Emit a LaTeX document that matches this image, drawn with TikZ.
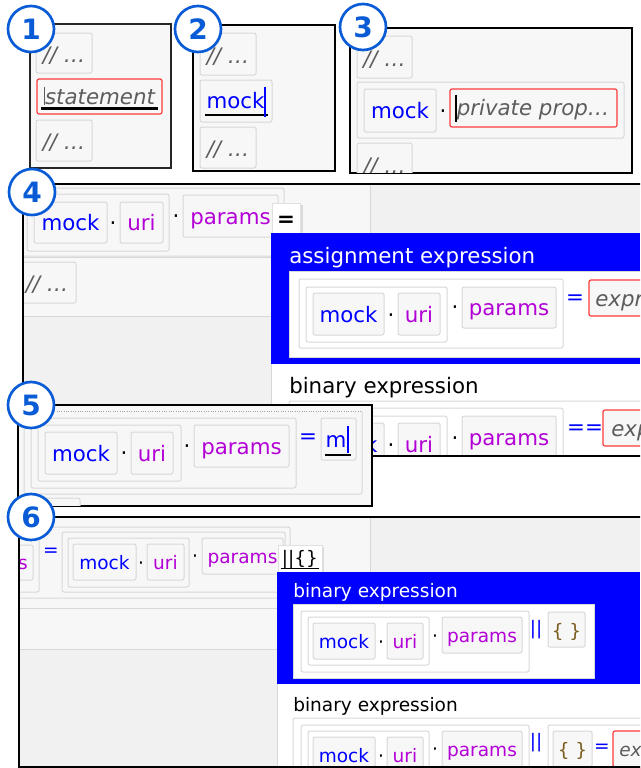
\documentclass[tikz,border=0pt]{standalone}
\usepackage{fontspec}
\setmainfont{DejaVu Sans}
\usepackage{tikz}
\definecolor{tokblue}{HTML}{0000FF}
\definecolor{tokmag}{HTML}{B300D6}
\definecolor{badgeblue}{HTML}{0A5CD6}
\definecolor{cellline}{HTML}{D8D8D8}
\definecolor{cellfill}{HTML}{F7F7F7}
\definecolor{panedark}{HTML}{F1F1F1}
\definecolor{errred}{HTML}{FF3B3B}
\definecolor{hintgray}{HTML}{5C5C5C}
\definecolor{bracebrown}{HTML}{7A5A1E}
\definecolor{selblue}{HTML}{0000FF}

\begin{document}
\begin{tikzpicture}[x=0.75pt,y=-0.75pt,
  frame/.style={draw=black,line width=1.5pt},
  cell/.style={draw=cellline,fill=cellfill,line width=0.75pt,rounded corners=1.5pt},
  grp/.style={draw=cellline,line width=0.75pt,rounded corners=1.5pt},
  err/.style={draw=errred,fill=cellfill,line width=0.9pt,rounded corners=1.5pt},
  tok/.style={inner sep=0pt,font=\fontsize{16}{18}\selectfont,text height=14.4pt,text depth=2.2pt},
  stok/.style={inner sep=0pt,font=\fontsize{13.9}{16}\selectfont,text height=12.5pt,text depth=1.9pt},
  hint/.style={tok,text=hintgray,font=\fontsize{16}{18}\selectfont\itshape},
  shint/.style={stok,text=hintgray,font=\fontsize{13.9}{16}\selectfont\itshape},
  popup/.style={fill=white,draw=black!12,line width=0.5pt},
  badge/.style={circle,draw=badgeblue,fill=white,line width=2pt,minimum size=34.5pt,inner sep=0pt,
    text=badgeblue,font=\fontsize{21}{22}\selectfont\bfseries}]
  \useasboundingbox (0,0) rectangle (640,768);
  \clip (0,0) rectangle (640,768);

  % panel 1: empty statement
  \filldraw[fill=cellfill,draw=black!85,line width=1pt] (30,24) rectangle (171,168);
  \draw[cell] (36,33) rectangle (92,73);   \node[hint] (c1a) at (64,54) {// …};
  \draw[err] (37,79) rectangle (162,114);  \node[hint] (st1) at (100,96.5) {statement};
  \draw[line width=2.2pt] (41,108.5) -- (158,108.5);
  \draw[hintgray,line width=0.6pt] (44,87) -- (44,105);
  \draw[cell] (36,120) rectangle (92,161); \node[hint] (c1b) at (64,141.5) {// …};

  % panel 2: typing an identifier
  \filldraw[fill=cellfill,frame] (193,25) rectangle (335,171);
  \draw[cell] (200,33) rectangle (256,75);   \node[hint] (c2a) at (228,55) {// …};
  \draw[cell] (200,80) rectangle (272,122);  \node[tok,tokblue] (m2) at (235.5,100) {mock};
  \draw[line width=2.2pt] (205,115) -- (268,115);
  \draw[tokblue,line width=0.8pt] (265,87) -- (265,117);
  \draw[cell] (200,127) rectangle (256,168); \node[hint] (c2b) at (228,148.5) {// …};

  % panel 3: member access
  \filldraw[fill=cellfill,frame] (350,28) rectangle (632,173);
  \begin{scope}
    \clip (351,29) rectangle (631,172);
    \draw[cell] (357,36) rectangle (412,78);  \node[hint] (c3a) at (384.5,58) {// …};
    \draw[grp] (357,82) rectangle (624,138);
    \draw[cell] (364,89) rectangle (436,132); \node[tok,tokblue] (m3) at (400,110.5) {mock};
    \node[tok] (d3) at (443,110) {·};
    \draw[err] (450,89) rectangle (617,127);  \node[hint] (pp3) at (533,107) {private prop…};
    \draw[line width=2.2pt] (456,95) -- (456,122);
    \draw[cell] (357,143) rectangle (412,185); \node[hint] (c3b) at (384.5,165) {// …};
  \end{scope}

  % panel 4: operator menu after "="
  \begin{scope}
    \clip (23,184) rectangle (640,456);
    \fill[panedark] (23,184) rectangle (640,456);
    \fill[cellfill] (23,184) rectangle (370,316);
    \draw[cellline,line width=0.75pt] (23,257) -- (370,257) (23,316) -- (370,316) (370,184) -- (370,316);
    \draw[grp] (14,188) rectangle (284,256);
    \draw[grp] (27,194) rectangle (169,251);
    \draw[cell] (34,202) rectangle (107,243);  \node[tok,tokblue] (m4) at (70.5,222.5) {mock};
    \node[tok] (d4a) at (113,222) {·};
    \draw[cell] (120,202) rectangle (163,243); \node[tok,tokmag] (u4) at (141.5,222.5) {uri};
    \node[tok] (d4b) at (176,215) {·};
    \draw[cell] (183,195) rectangle (278,237); \node[tok,tokmag] (p4) at (230.5,216) {params};
    \fill[black!14] (274,205) rectangle (303,236);
    \draw[popup] (272,203) rectangle (300,233); \node[tok,font=\fontsize{16}{18}\selectfont\bfseries] (eq4) at (286,218) {=};
    \draw[cell] (14,262) rectangle (76,303); \node[hint] (c4) at (47,283.5) {// …};
    % selected entry
    \fill[selblue] (271,233) rectangle (640,364);
    \node[tok,white,anchor=base west,text height=,text depth=] (t4a) at (289,263) {assignment expression};
    \filldraw[fill=white,draw=cellline,line width=0.75pt] (289,271) rectangle (650,357);
    \draw[grp] (299,279) rectangle (563,348);
    \draw[grp] (306,287) rectangle (447,342);
    \draw[cell] (313,293) rectangle (384,335); \node[tok,tokblue] (m4a) at (348.5,314) {mock};
    \node[tok] (d4c) at (391,314) {·};
    \draw[cell] (398,293) rectangle (440,335); \node[tok,tokmag] (u4a) at (419,314) {uri};
    \node[tok] (d4d) at (455,306) {·};
    \draw[cell] (462,287) rectangle (556,328); \node[tok,tokmag] (p4a) at (509,307.5) {params};
    \node[tok,tokblue] (op4a) at (575,296) {=};
    \draw[err] (589,280) rectangle (660,316); \node[hint,anchor=west] (x4a) at (595,298) {expression};
    % next entry
    \fill[white] (271,364) rectangle (650,456);
    \draw[cellline,line width=0.75pt] (271,364) -- (271,456);
    \node[tok,anchor=base west,text height=,text depth=] (t4b) at (289,393) {binary expression};
    \draw[grp] (289,401) rectangle (650,470);
    \draw[grp] (299,408) rectangle (563,470);
    \draw[grp] (306,416) rectangle (447,470);
    \draw[cell] (313,423) rectangle (384,465); \node[tok,tokblue] (m4b) at (348.5,444) {mock};
    \node[tok] (d4e) at (391,444) {·};
    \draw[cell] (398,423) rectangle (440,465); \node[tok,tokmag] (u4b) at (419,444) {uri};
    \node[tok] (d4f) at (455,437) {·};
    \draw[cell] (462,416) rectangle (556,458); \node[tok,tokmag] (p4b) at (509,437) {params};
    \node[tok,tokblue] (op4b) at (585,426) {==};
    \draw[err] (603,410) rectangle (660,446); \node[hint,anchor=west] (x4b) at (611,428) {expression};
  \end{scope}
  \draw[frame] (23,184) rectangle (660,456);

  % panel 5: right-hand side typed
  \filldraw[fill=cellfill,frame] (18,405) rectangle (372,506);
  \begin{scope}
    \clip (19,406) rectangle (371,505);
    \draw[grp] (24,411) |- (362,494) -- (362,411);
    \draw[black!35,densely dotted,line width=0.75pt] (24,411) -- (362,411);
    \draw[grp] (31,418) rectangle (296,488);
    \draw[grp] (38,425) rectangle (181,481);
    \draw[cell] (45,432) rectangle (117,474);  \node[tok,tokblue] (m5) at (81,453) {mock};
    \node[tok] (d5a) at (124,452) {·};
    \draw[cell] (131,432) rectangle (173,474); \node[tok,tokmag] (u5) at (152,453) {uri};
    \node[tok] (d5b) at (187,445) {·};
    \draw[cell] (194,425) rectangle (289,467); \node[tok,tokmag] (p5) at (241.5,446) {params};
    \node[tok,tokblue] (op5) at (308,435) {=};
    \draw[cell] (321,418) rectangle (356,460); \node[tok,tokblue] (r5) at (336,439) {m};
    \draw[line width=2.2pt] (325,455) -- (351,455);
    \draw[tokblue,line width=0.8pt] (348,426) -- (348,453);
    \draw[cell] (24,498) rectangle (80,540);
  \end{scope}

  % panel 6: operator menu after "||{}"
  \begin{scope}
    \clip (19,517) rectangle (640,767);
    \fill[panedark] (19,517) rectangle (640,767);
    \fill[cellfill] (19,517) rectangle (370,649);
    \draw[cellline,line width=0.75pt] (19,608) -- (370,608) (19,649) -- (370,649) (370,517) -- (370,649);
    \draw[grp] (10,527) rectangle (290,598);
    \draw[grp] (10,533) rectangle (39,592);
    \draw[cell] (10,545) rectangle (33,580); \node[stok,tokmag,anchor=east] (p6) at (28,562) {params};
    \node[stok,tokblue] (op6) at (51,549) {=};
    \draw[grp] (62,532) rectangle (285,592);
    \draw[grp] (68,538) rectangle (189,587);
    \draw[cell] (73,544) rectangle (136,580);  \node[stok,tokblue] (m6) at (104.5,562) {mock};
    \node[stok] (d6a) at (141,562) {·};
    \draw[cell] (147,544) rectangle (184,580); \node[stok,tokmag] (u6) at (165.5,562) {uri};
    \node[stok] (d6b) at (195,555) {·};
    \draw[cell] (202,538) rectangle (283,574); \node[stok,tokmag] (p6a) at (242.5,556) {params};
    \fill[black!14] (280,547) rectangle (324,574);
    \draw[popup] (278,545) rectangle (322,572); \node[stok] (op6a) at (300,557) {||\{\}};
    \draw[line width=1.2pt] (281,568.5) -- (319,568.5);
    % selected entry
    \fill[selblue] (277,572) rectangle (640,684);
    \node[stok,white,anchor=base west,text height=,text depth=] (t6a) at (293,597) {binary expression};
    \filldraw[fill=white,draw=cellline,line width=0.75pt] (293,604) rectangle (594,678);
    \draw[grp] (301,611) rectangle (529,672);
    \draw[grp] (308,617) rectangle (429,665);
    \draw[cell] (313,623) rectangle (375,659); \node[stok,tokblue] (m6a) at (344,641) {mock};
    \node[stok] (d6c) at (381,641) {·};
    \draw[cell] (387,623) rectangle (423,659); \node[stok,tokmag] (u6a) at (405,641) {uri};
    \node[stok] (d6d) at (435,635) {·};
    \draw[cell] (442,617) rectangle (522,653); \node[stok,tokmag] (p6b) at (482,635) {params};
    \node[stok,tokblue] (op6b) at (536,627) {||};
    \draw[cell] (548,612) rectangle (585,647); \node[stok,bracebrown] (o6a) at (566.5,630) {\{ \}};
    % next entry
    \fill[white] (277,684) rectangle (650,767);
    \draw[cellline,line width=0.75pt] (277,684) -- (277,767);
    \node[stok,anchor=base west,text height=,text depth=] (t6b) at (293,711) {binary expression};
    \draw[grp] (293,718) rectangle (650,790);
    \draw[grp] (301,725) rectangle (529,790);
    \draw[grp] (308,731) rectangle (429,790);
    \draw[cell] (313,737) rectangle (375,773); \node[stok,tokblue] (m6b) at (344,755) {mock};
    \node[stok] (d6e) at (381,755) {·};
    \draw[cell] (387,737) rectangle (423,773); \node[stok,tokmag] (u6b) at (405,755) {uri};
    \node[stok] (d6f) at (435,748) {·};
    \draw[cell] (442,731) rectangle (522,767); \node[stok,tokmag] (p6c) at (482,749) {params};
    \node[stok,tokblue] (op6c) at (536,740) {||};
    \draw[grp] (548,725) rectangle (650,790);
    \draw[cell] (553,731) rectangle (592,767); \node[stok,bracebrown] (o6b) at (572.5,749) {\{ \}};
    \node[stok,tokblue] (op6d) at (602,745) {=};
    \draw[err] (613,731) rectangle (660,767); \node[shint,anchor=west] (x6) at (619,749) {expression};
  \end{scope}
  \draw[frame] (19,517) rectangle (660,767);

  % step badges
  \foreach \n/\x/\y in {1/31/29,2/198/29,3/363/27,4/32/192,5/31/405,6/31/517}
    \node[badge] (b\n) at (\x,\y) {\n};
\end{tikzpicture}
\end{document}
